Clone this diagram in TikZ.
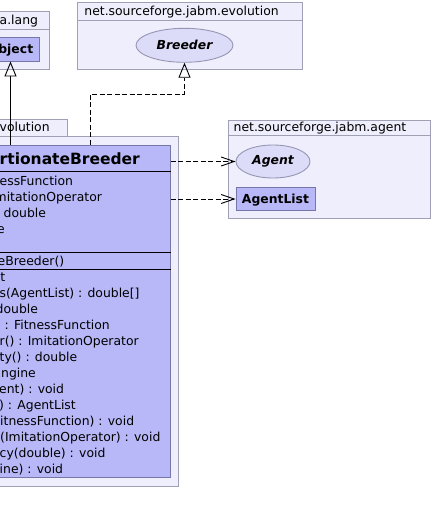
\documentclass[tikz,border=0pt]{standalone}
\usepackage{fontspec}
\setmainfont{DejaVu Sans}
\usepackage{tikz}
\usetikzlibrary{arrows.meta,positioning,shapes.geometric}
\definecolor{pkgfill}{RGB}{238,238,252}
\definecolor{pkgline}{RGB}{160,160,180}
\definecolor{clsfill}{RGB}{184,184,248}
\definecolor{clsline}{RGB}{118,118,168}
\definecolor{iffill}{RGB}{220,220,248}
\definecolor{ifline}{RGB}{150,150,180}
\newcommand\umltext{\fontsize{12.4pt}{15pt}\selectfont}
\newcommand\umltitle{\fontsize{15.5pt}{18pt}\selectfont\bfseries}

\begin{document}
\begin{tikzpicture}[x=1pt, y=-1pt,
  pkg/.style={draw=pkgline, fill=pkgfill, line width=0.9pt},
  pkglabel/.style={anchor=base west, inner sep=0pt, font=\umltext},
  cls/.style={draw=clsline, fill=clsfill, line width=0.9pt, inner sep=0pt,
              font=\umltext\bfseries, text depth=0pt},
  iface/.style={ellipse, draw=ifline, fill=iffill, line width=0.9pt, inner sep=0pt,
                font=\umltext\bfseries\itshape},
  member/.style={anchor=base west, inner sep=0pt, font=\umltext},
  sep/.style={line width=0.9pt},
  extends/.style={line width=0.9pt, -{Triangle[open, length=15pt, width=12pt]}},
  realizes/.style={extends, dash pattern=on 5pt off 2.5pt},
  uses/.style={line width=0.9pt, dash pattern=on 5pt off 2.5pt,
               -{Straight Barb[length=13pt, width=9pt]}},
]
\clip (0,0) rectangle (434,524);
\fill[white] (0,0) rectangle (434,524);

% java.lang
\draw[pkg] (-40,11) rectangle (49,69);
\draw[pkg] (-40,29) -- (49,29);
\node[pkglabel] (langname) at (-0.5,25) {a.lang};
\node[cls, minimum width=57pt, minimum height=24pt] (obj) at (10.5,49) {Object};

% net.sourceforge.jabm.evolution (top)
\draw[pkg] (77.3,2.7) rectangle (302,69);
\draw[pkg] (77.3,20.7) -- (302,20.7);
\node[pkglabel] (evoname) at (84.2,16) {net.sourceforge.jabm.evolution};
\node[iface, minimum width=97pt, minimum height=34pt] (breeder) at (184.5,45.3) {Breeder};

% net.sourceforge.jabm.agent
\draw[pkg] (228.3,120) rectangle (430.7,218.3);
\draw[pkg] (228.3,135.7) -- (430.7,135.7);
\node[pkglabel] (agentname) at (233.5,131.7) {net.sourceforge.jabm.agent};
\node[iface, minimum width=74pt, minimum height=33pt] (agent) at (273,161.5) {Agent};
\node[cls, minimum width=79pt, minimum height=23.4pt] (agentlist) at (275.5,199) {AgentList};

% evolution package holding the breeder class
\draw[pkg] (-40,119) rectangle (67,136.5);
\draw[pkg] (-40,136.5) rectangle (178,486);
\node[pkglabel] (evotab) at (-0.5,131.7) {volution};

% class box
\node[cls, minimum width=310.5pt, minimum height=332pt] (fpb) at (15.25,311) {};
\node[member, font=\umltitle] (title) at (-0.5,164.3) {rtionateBreeder};
\draw[sep] (fpb.west |- 0,171.7) -- (fpb.east |- 0,171.7);
\foreach \i/\dx/\txt in {0/-0.5/essFunction, 1/-5.5/mitationOperator,
                         2/3.5/double, 3/-3/e} {
  \node[member] (f\i) at ({\dx},{185+\i*16}) {\txt};
}
\draw[sep] (fpb.west |- 0,252.7) -- (fpb.east |- 0,252.7);
\node[member] (ctor) at (-2.5,265.5) {eBreeder()};
\draw[sep] (fpb.west |- 0,269.3) -- (fpb.east |- 0,269.3);
\foreach \i/\dx/\txt in {0/-7.6/nt, 1/-0.5/{s(AgentList) : double[]},
                         2/-4.5/double, 3/4.5/{: FitnessFunction},
                         4/-0.5/{r() : ImitationOperator}, 5/-0.5/{ty() : double},
                         6/1/ngine, 7/-1/{ent) : void}, 8/-1/{) : AgentList},
                         9/0/{itnessFunction) : void},
                         10/0/{(ImitationOperator) : void},
                         11/-0.5/{cy(double) : void}, 12/-0.5/{ine) : void}} {
  \node[member] (m\i) at ({\dx},{281.5+\i*16}) {\txt};
}

% relations
\draw[extends] (fpb.north -| obj.south) -- (obj.south);
\coordinate (bend) at (90.5,94);
\draw[realizes] (fpb.north -| bend) -- (bend) -| (breeder.south);
\draw[uses] (fpb.east |- agent.west) -- (agent.west);
\draw[uses] (fpb.east |- agentlist.west) -- (agentlist.west);
\end{tikzpicture}
\end{document}
